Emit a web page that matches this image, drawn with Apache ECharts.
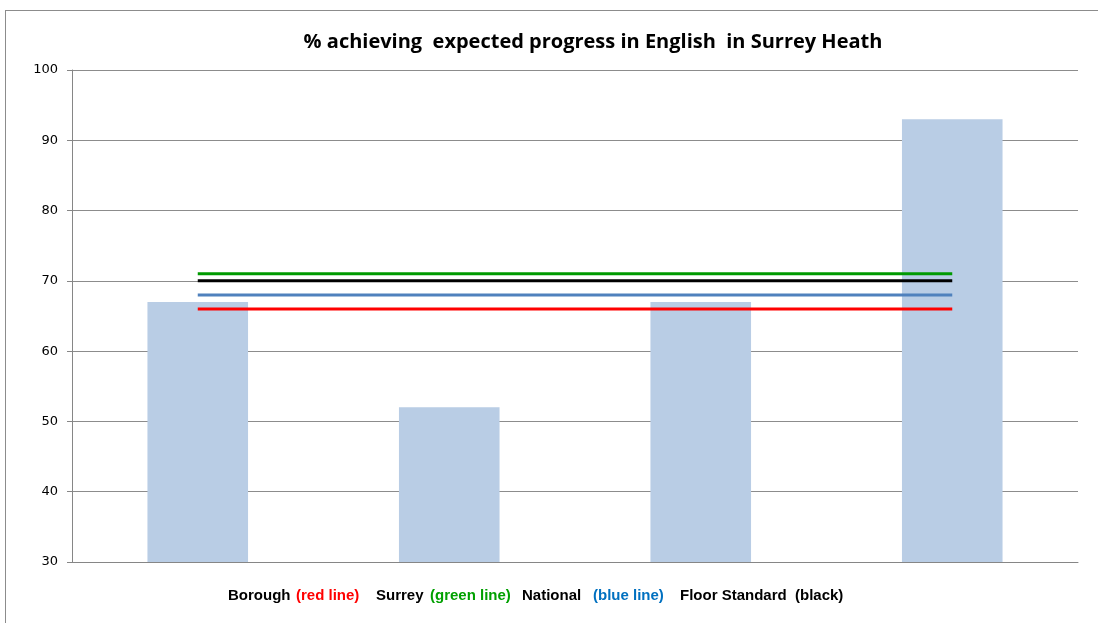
<!DOCTYPE html>
<html>
<head>
<meta charset="utf-8">
<script src="https://cdn.jsdelivr.net/npm/echarts@6/dist/echarts.min.js"></script>
<style>
  html, body { margin: 0; padding: 0; background: #fff; }
  #frame { position: absolute; left: 5px; top: 10px; width: 1100px; height: 620px; border: 1px solid #8c8c8c; box-sizing: border-box; }
  #chart { position: absolute; left: 0; top: 0; width: 1098px; height: 623px; }
</style>
</head>
<body>
<div id="frame"></div>
<div id="chart"></div>
<script>
// data
var categories = ['A', 'B', 'C', 'D'];
var schoolValues = [67, 52, 67, 93];
var boroughValue = 66;   // red line
var surreyValue = 71;    // green line
var nationalValue = 68;  // blue line
var floorValue = 70;     // black line

function flat(v) {
  return categories.map(function () { return v; });
}

// legend pieces written as plain text under the plot
function legendText(x, text, color) {
  return {
    type: 'text',
    left: x,
    top: 588,
    style: {
      text: text,
      fill: color,
      fontFamily: 'Liberation Sans, Arial',
      fontWeight: 'bold',
      fontSize: 15
    }
  };
}

var myChart = echarts.init(document.getElementById('chart'));
var lineStyleFor = function (color) {
  return { color: color, width: 3 };
};
var option = {
  animation: false,
  title: {
    text: '% achieving  expected progress in English  in Surrey Heath',
    left: 588,
    textAlign: 'center',
    top: 27,
    textStyle: {
      fontFamily: "'Liberation Sans Narrow', 'Open Sans', sans-serif",
      fontSize: 20,
      fontWeight: 'bold',
      color: '#000'
    }
  },
  grid: { left: 72, right: 20, top: 70, bottom: 61 },
  xAxis: {
    type: 'category',
    data: categories,
    axisLine: { lineStyle: { color: '#868686', width: 1 } },
    axisTick: { show: false },
    axisLabel: { show: false }
  },
  yAxis: {
    type: 'value',
    min: 30,
    max: 100,
    interval: 10,
    axisLine: { show: true, lineStyle: { color: '#868686' } },
    axisTick: { show: true, length: 5, lineStyle: { color: '#868686' } },
    axisLabel: { color: '#000', fontSize: 13, fontFamily: 'DejaVu Sans', margin: 14 },
    splitLine: { lineStyle: { color: '#8c8c8c', width: 1 } }
  },
  series: [
    {
      type: 'bar',
      data: schoolValues,
      barWidth: '40%',
      itemStyle: { color: '#b9cde5' },
      z: 2
    },
    { type: 'line', data: flat(surreyValue), symbol: 'none', lineStyle: lineStyleFor('#009a00'), z: 5 },
    { type: 'line', data: flat(floorValue), symbol: 'none', lineStyle: lineStyleFor('#000000'), z: 5 },
    { type: 'line', data: flat(nationalValue), symbol: 'none', lineStyle: lineStyleFor('#4f81bd'), z: 5 },
    { type: 'line', data: flat(boroughValue), symbol: 'none', lineStyle: lineStyleFor('#ff0000'), z: 5 }
  ],
  graphic: [
    legendText(228, 'Borough', '#000'),
    legendText(296, '(red line)', '#ff0000'),
    legendText(376, 'Surrey', '#000'),
    legendText(430, '(green line)', '#00a000'),
    legendText(522, 'National', '#000'),
    legendText(593, '(blue line)', '#0070c0'),
    legendText(680, 'Floor Standard', '#000'),
    legendText(795, '(black)', '#000')
  ]
};
myChart.setOption(option);
</script>
</body>
</html>
